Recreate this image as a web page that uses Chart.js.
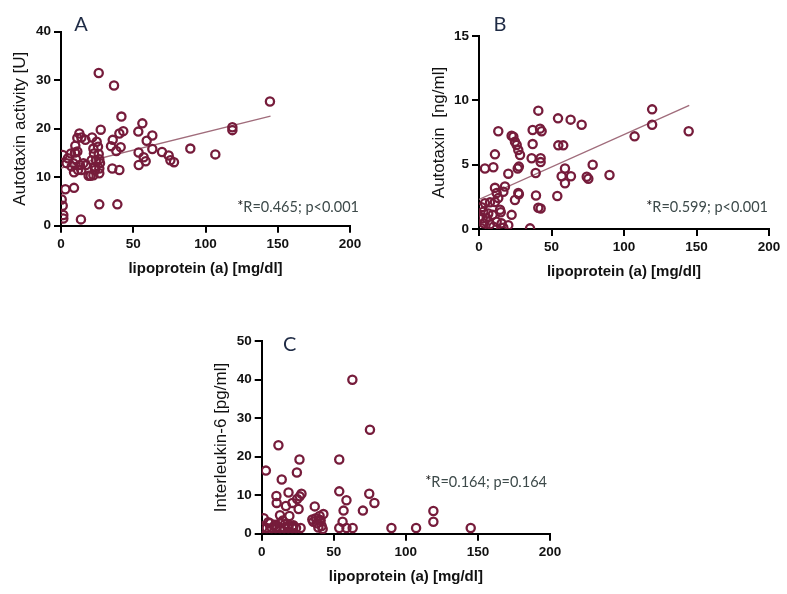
<!DOCTYPE html>
<html>
<head>
<meta charset="utf-8">
<script src="https://cdn.jsdelivr.net/npm/chart.js@4.4.1/dist/chart.umd.min.js"></script>
<style>
  html, body { margin: 0; padding: 0; background: #fff; }
  body { width: 787px; height: 594px; position: relative; overflow: hidden; }
  canvas { position: absolute; }
</style>
</head>
<body>
<canvas id="chartA" width="380" height="290" style="left:0px;top:0px"></canvas>
<canvas id="chartB" width="392" height="290" style="left:395px;top:0px"></canvas>
<canvas id="chartC" width="400" height="294" style="left:195px;top:300px"></canvas>
<script>
// Panel A: lipoprotein (a) vs autotaxin activity
var lpaA = [26.1, 36.7, 144.6, 41.8, 43.1, 40.4, 27.5, 56.3, 53.5, 63.2, 59.3, 63.2, 53.7, 57.2, 53.8, 58.6,
  69.9, 74.5, 75.7, 78.2, 89.5, 106.8, 118.6, 118.6, 35.8, 34.6, 41.3, 38.3, 35.5, 40.4, 26.5, 39.0, 13.8,
  0.5, 1.2, 1.6, 1.6, 3.0, 9.0, 1.2, 3.9, 4.8, 6.9, 8.5, 9.0, 10.4, 11.3, 9.9, 11.3, 12.7, 14.1, 13.1, 14.1,
  11.8, 16.9, 17.3, 19.1, 20.5, 21.5, 22.4, 22.8, 23.5, 24.7, 25.6, 26.1, 26.5, 27.0, 26.5, 26.5, 22.4, 24.2,
  15.5, 7.4, 9.7, 21.2, 23.5];
var atxActivity = [31.5, 28.9, 25.6, 22.5, 19.5, 19.0, 19.8, 21.1, 19.4, 18.6, 17.5, 15.8, 15.1, 14.1, 12.5, 13.3,
  15.2, 14.5, 13.5, 13.1, 15.9, 14.7, 20.3, 19.7, 17.7, 16.4, 16.2, 15.4, 11.8, 11.5, 4.4, 4.4, 1.3,
  5.4, 4.1, 2.2, 1.5, 7.5, 7.8, 14.6, 12.9, 13.9, 14.9, 12.9, 11.0, 13.7, 15.3, 16.5, 18.1, 19.0, 18.2, 12.5, 11.5,
  11.5, 17.7, 12.5, 10.3, 10.3, 18.2, 15.9, 14.9, 11.5, 17.3, 16.3, 14.8, 13.7, 12.9, 11.8, 10.8, 10.4, 13.5,
  12.9, 12.2, 15.1, 13.5, 12.2];
var fitA_x = [0, 145];
var fitA_y = [11.9, 22.6];

// Panel B: lipoprotein (a) vs autotaxin concentration
var lpaB = [40.9, 54.5, 63.2, 70.8, 119.4, 119.4, 107.3, 144.6, 13.3, 37.0, 42.1, 43.2, 22.5, 23.7, 24.8, 26.0,
  27.1, 28.3, 37.0, 54.7, 58.1, 11.0, 36.3, 42.5, 42.5, 26.7, 27.5, 4.1, 9.9, 20.2, 39.1, 78.4, 59.3, 57.0,
  63.4, 59.3, 74.3, 75.4, 90.0, 11.0, 17.9, 16.8, 27.1, 27.5, 39.3, 54.0, 40.9, 42.5, 24.8, 22.5, 35.2,
  4.1, 7.6, 11.0, 13.3, 12.2, 14.5, 15.0, 1.8, 3.0, 0.7, 5.3, 9.4, 3.4, 7.6, 12.2, 15.6, 20.2, 1.8, 9.9,
  16.8, 2.5, 6.4];
var atxConc = [9.2, 8.6, 8.5, 8.1, 9.3, 8.1, 7.2, 7.6, 7.6, 7.7, 7.8, 7.6, 7.25, 7.17, 6.78, 6.53,
  6.14, 5.75, 6.6, 6.5, 6.5, 5.8, 5.5, 5.5, 5.2, 4.7, 4.85, 4.7, 4.8, 4.3, 4.35, 5.0, 4.7, 4.1,
  4.1, 3.55, 4.06, 3.9, 4.2, 3.2, 3.3, 2.9, 2.8, 2.7, 2.6, 2.56, 1.65, 1.6, 2.25, 1.1, 0.05,
  2.0, 2.07, 2.1, 2.4, 2.8, 1.5, 1.3, 1.7, 1.35, 0.96, 0.83, 1.1, 0.44, 0.37, 0.57, 0.44, 0.3, 0.05, 0.18,
  0.1, 0.83, 1.2];
var fitB_x = [0, 145];
var fitB_y = [2.3, 9.6];

// Panel C: lipoprotein (a) vs interleukin-6
var lpaC = [62.9, 75.1, 11.6, 26.2, 53.8, 2.9, 24.4, 13.9, 53.8, 74.6, 78.2, 58.8, 56.8, 70.2, 119.1, 119.1,
  56.1, 36.8, 27.6, 26.4, 24.6, 21.3, 18.6, 10.2, 10.4, 16.8, 25.6, 19.2, 12.7, 1.4, 4.6, 42.8, 40.2, 35.1,
  35.8, 38.2, 40.9, 41.6, 39.3, 42.3, 40.1, 37.5, 90.0, 107.1, 145.0, 63.1, 58.8, 53.8, 0.4, 3.5, 6.9,
  9.7, 12.7, 15.7, 18.5, 21.2, 23.8, 27.0, 9.2, 16.2, 21.9, 12.7, 14.6, 10.4, 18.5, 22.0, 5.8];
var il6 = [40.0, 27.0, 23.0, 19.3, 19.3, 16.4, 15.9, 14.1, 11.0, 10.4, 8.0, 8.7, 6.0, 6.0, 5.9, 3.1,
  3.1, 7.1, 10.4, 9.7, 9.0, 8.0, 10.7, 9.8, 8.0, 7.2, 6.4, 4.6, 4.8, 4.0, 3.0, 5.1, 4.6, 3.7,
  3.1, 2.7, 3.4, 2.0, 1.6, 1.2, 3.6, 4.0, 1.5, 1.5, 1.5, 1.5, 1.5, 1.5, 1.5, 1.5, 1.5,
  1.5, 1.5, 1.5, 1.5, 1.5, 1.5, 1.5, 2.3, 2.5, 1.8, 2.7, 3.4, 1.8, 2.0, 2.2, 2.7];

var markerColor = '#761c3b';
var fitColor = '#a06c7b';
var axisFont = '"Liberation Sans", Arial, sans-serif';

function toPoints(xs, ys) {
  return xs.map(function (x, i) { return { x: x, y: ys[i] }; });
}

// draws the panel letter and the correlation text
var panelTextPlugin = {
  id: 'panelText',
  afterDraw: function (chart) {
    var o = chart.options.plugins.panelText;
    var ctx = chart.ctx;
    var area = chart.chartArea;
    ctx.save();
    ctx.textBaseline = 'middle';
    ctx.textAlign = 'center';
    ctx.fillStyle = '#1f2b45';
    ctx.font = '20px Lato, "Open Sans", sans-serif';
    ctx.fillText(o.letter, area.left + o.letterDx, area.top + o.letterDy);

    ctx.font = '14.5px Lato, "Open Sans", sans-serif';
    var right = area.right + o.statDx;
    var y = area.bottom - o.statDy;
    var restWidth = ctx.measureText(o.stat).width;
    ctx.textAlign = 'right';
    ctx.fillStyle = '#3d4a4a';
    ctx.fillText(o.stat, right, y);
    ctx.fillStyle = '#111';
    ctx.fillText('*', right - restWidth, y - 1);
    ctx.restore();
  }
};

function buildChart(canvasId, cfg) {
  var datasets = [{
    type: 'scatter',
    data: toPoints(cfg.xs, cfg.ys),
    borderColor: markerColor,
    backgroundColor: 'rgba(255,255,255,0)',
    pointRadius: 4.1,
    pointBorderWidth: 2.3,
    pointHoverRadius: 4.1,
    order: 1
  }];
  if (cfg.fitX) {
    datasets.push({
      type: 'line',
      data: toPoints(cfg.fitX, cfg.fitY),
      borderColor: fitColor,
      borderWidth: 1.4,
      pointRadius: 0,
      fill: false,
      order: 2
    });
  }

  var ctx = document.getElementById(canvasId);
  return new Chart(ctx, {
    type: 'scatter',
    data: { datasets: datasets },
    options: {
      responsive: false,
      animation: false,
      layout: { padding: cfg.padding },
      plugins: {
        legend: { display: false },
        tooltip: { enabled: false },
        panelText: cfg.text
      },
      scales: {
        x: {
          type: 'linear',
          min: 0,
          max: 200,
          ticks: { stepSize: 50, color: '#111', padding: 3, maxRotation: 0, autoSkip: false,
            font: { family: axisFont, size: 13.5, weight: 'bold' } },
          grid: { display: true, drawOnChartArea: false, drawTicks: true, tickLength: 7, color: '#000', lineWidth: 2 },
          border: { display: true, color: '#000', width: 2 },
          title: { display: true, text: 'lipoprotein (a) [mg/dl]', color: '#111',
            font: { family: axisFont, size: 15, weight: 'bold' }, padding: { top: 4, bottom: 4 } },
          afterFit: function (scale) { scale.height = 56; }
        },
        y: {
          type: 'linear',
          min: 0,
          max: cfg.yMax,
          ticks: { stepSize: cfg.yStep, color: '#111', padding: 3,
            font: { family: axisFont, size: 13.5, weight: 'bold' } },
          grid: { display: true, drawOnChartArea: false, drawTicks: true, tickLength: 7, color: '#000', lineWidth: 2 },
          border: { display: true, color: '#000', width: 2 },
          title: { display: true, text: cfg.yTitle, color: '#111',
            font: { family: axisFont, size: 17 }, padding: { top: 4, bottom: 4 } },
          afterFit: function (scale) { scale.width = cfg.yWidth; }
        }
      }
    },
    plugins: [panelTextPlugin]
  });
}

document.addEventListener('DOMContentLoaded', function () {
  buildChart('chartA', {
    xs: lpaA, ys: atxActivity, fitX: fitA_x, fitY: fitA_y,
    yMax: 40, yStep: 10, yTitle: 'Autotaxin activity [U]',
    padding: { left: 5.8, top: 31.7, right: 30, bottom: 8.3 }, yWidth: 55.2,
    text: { letter: 'A', letterDx: 20, letterDy: -7, stat: 'R=0.465; p<0.001', statDx: 9, statDy: 18.7 }
  });
  buildChart('chartB', {
    xs: lpaB, ys: atxConc, fitX: fitB_x, fitY: fitB_y,
    yMax: 15, yStep: 5, yTitle: 'Autotaxin  [ng/ml]',
    padding: { left: 30.1, top: 36, right: 18, bottom: 5 }, yWidth: 53.9,
    text: { letter: 'B', letterDx: 21, letterDy: -11.3, stat: 'R=0.599; p<0.001', statDx: -1, statDy: 22 }
  });
  buildChart('chartC', {
    xs: lpaC, ys: il6,
    yMax: 50, yStep: 10, yTitle: 'Interleukin-6 [pg/ml]',
    padding: { left: 12.5, top: 41.3, right: 45, bottom: 4.3 }, yWidth: 54.2,
    text: { letter: 'C', letterDx: 28, letterDy: 3.4, stat: 'R=0.164; p=0.164', statDx: -3, statDy: 51 }
  });
});
</script>
</body>
</html>
